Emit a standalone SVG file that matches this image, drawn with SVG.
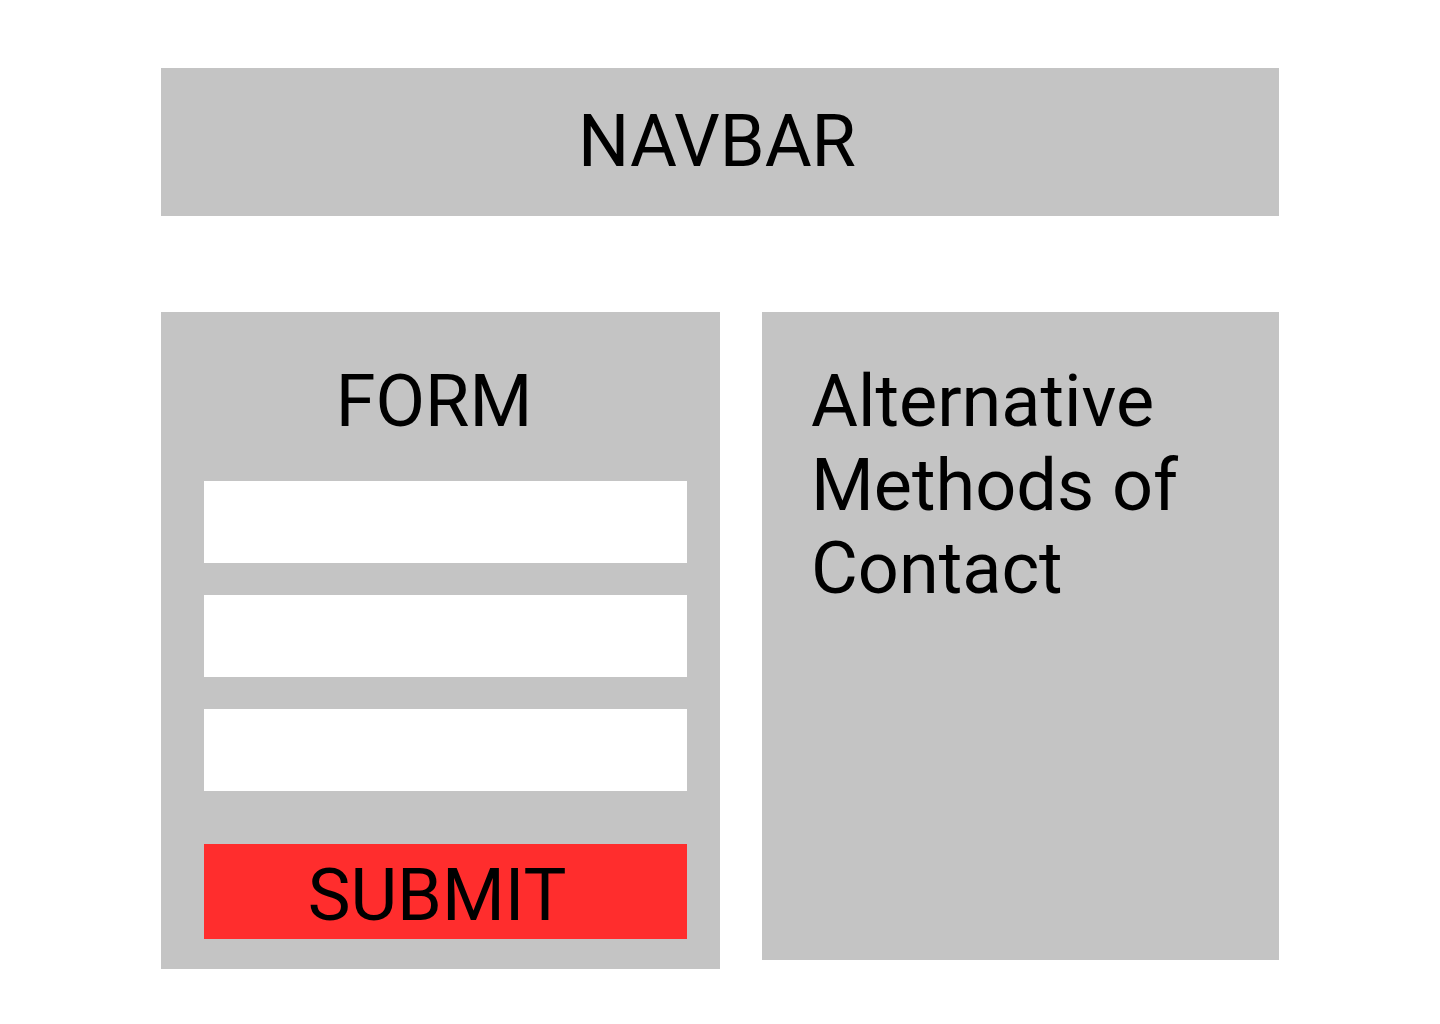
<svg xmlns="http://www.w3.org/2000/svg" width="1440" height="1024" viewBox="0 0 1440 1024">
<style>
.box{fill:#C4C4C4}
.field{fill:#FFFFFF}
.btn{fill:#FF2D2D}
.t{font-family:Roboto,"Liberation Sans",sans-serif;font-size:72px;fill:#000}
</style>
<rect width="1440" height="1024" fill="#FFFFFF"/>
<g id="navbar">
<rect class="box" x="161" y="68" width="1118" height="148"/>
<text class="t" x="717" y="166" text-anchor="middle">NAVBAR</text>
</g>
<g id="form">
<rect class="box" x="161" y="312" width="559" height="657"/>
<text class="t" x="434" y="426" text-anchor="middle">FORM</text>
</g>
<g id="field1"><rect class="field" x="204" y="481" width="483" height="82"/></g>
<g id="field2"><rect class="field" x="204" y="595" width="483" height="82"/></g>
<g id="field3"><rect class="field" x="204" y="709" width="483" height="82"/></g>
<g id="submit">
<rect class="btn" x="204" y="844" width="483" height="95"/>
<text class="t" x="437" y="920" text-anchor="middle">SUBMIT</text>
</g>
<g id="alternative">
<rect class="box" x="762" y="312" width="517" height="648"/>
<text class="t" x="811" y="426">Alternative</text>
<text class="t" x="811" y="510">Methods of</text>
<text class="t" x="811" y="593">Contact</text>
</g>
<g id="connectors"/>
</svg>
